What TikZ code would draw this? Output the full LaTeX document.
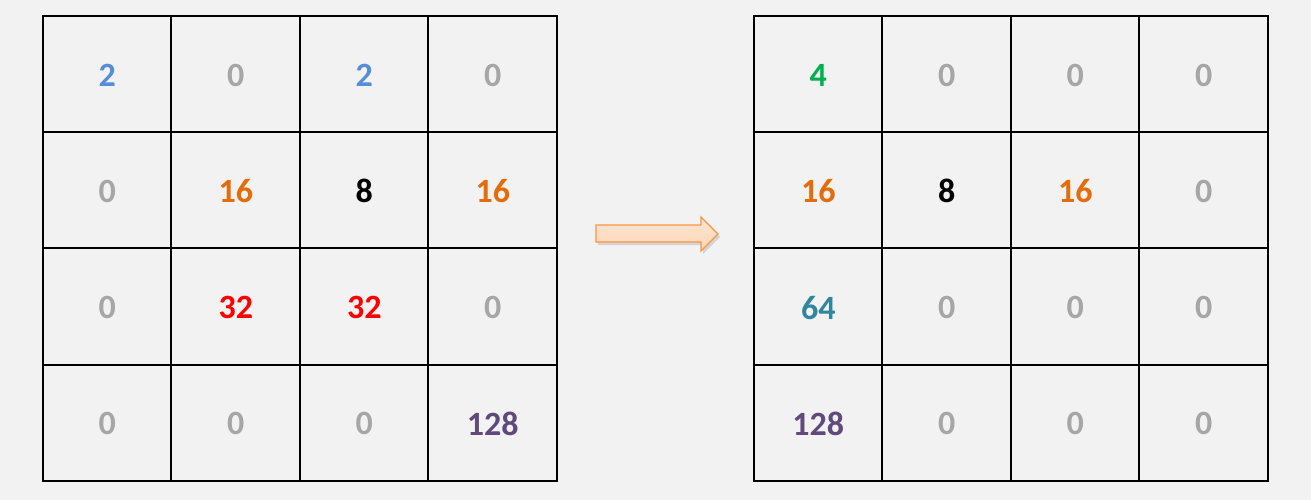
\documentclass[tikz,border=0pt]{standalone}
\usepackage{fontspec}
\setmainfont{Carlito}
\usetikzlibrary{positioning}
\definecolor{bgpaper}{HTML}{F2F2F2}
\definecolor{numgray}{HTML}{A6A6A6}
\definecolor{numblue}{HTML}{558ED5}
\definecolor{numorange}{HTML}{E46C0A}
\definecolor{numred}{HTML}{FF0000}
\definecolor{numpurple}{HTML}{604A7B}
\definecolor{numgreen}{HTML}{00B050}
\definecolor{numteal}{HTML}{31859C}
\definecolor{arrowline}{HTML}{F79646}
\definecolor{arrowfill}{HTML}{FCD5B5}
\tikzset{
    %Define style for grid cells
    cell/.style={
           rectangle,
           minimum width=128.5pt,
           minimum height=116.25pt,
           inner sep=0pt,
           font=\fontsize{34}{34}\selectfont\bfseries},
    % Define style for the board lines
    boardline/.style={
           draw=black,
           line width=2pt,
           line cap=rect},
    % Define style for the move arrow
    movearrow/.style={
           draw=arrowline,
           line width=1.2pt,
           line join=miter,
           top color=arrowfill!60,
           bottom color=arrowfill},
}
\begin{document}
\begin{tikzpicture}[x=1pt,y=-1pt]
 \useasboundingbox[fill=bgpaper] (0,0) rectangle (1311,500);
 %left board
 \foreach \r/\row in {1/{numblue/2,numgray/0,numblue/2,numgray/0},
                      2/{numgray/0,numorange/16,black/8,numorange/16},
                      3/{numgray/0,numred/32,numred/32,numgray/0},
                      4/{numgray/0,numgray/0,numgray/0,numpurple/128}}{
   \foreach \col/\val [count=\c] in \row{
     \node[cell, text=\col] (L-\r-\c) at ({43+128.5*(\c-0.5)},{17+116.25*(\r-0.5)}) {\val};
   }
 }
 %right board
 \foreach \r/\row in {1/{numgreen/4,numgray/0,numgray/0,numgray/0},
                      2/{numorange/16,black/8,numorange/16,numgray/0},
                      3/{numteal/64,numgray/0,numgray/0,numgray/0},
                      4/{numpurple/128,numgray/0,numgray/0,numgray/0}}{
   \foreach \col/\val [count=\c] in \row{
     \node[cell, text=\col] (R-\r-\c) at ({754+128.5*(\c-0.5)},{17+116.25*(\r-0.5)}) {\val};
   }
 }
 %board lines
 \foreach \x in {43,171,300,428,557}{
   \draw[boardline] (\x,16) -- (\x,481);
   \draw[boardline] (\x+711,16) -- (\x+711,481);
 }
 \foreach \y in {16,132,248,365,481}{
   \draw[boardline] (43,\y) -- (557,\y);
   \draw[boardline] (754,\y) -- (1268,\y);
 }
 %arrow
 \fill[black, opacity=0.12] (598,228) -- (703,228) -- (703,220) -- (720,237)
   -- (703,254) -- (703,245) -- (598,245) -- cycle;
 \draw[movearrow] (596,225) -- (701,225) -- (701,217) -- (718,234)
   -- (701,251) -- (701,242) -- (596,242) -- cycle;
\end{tikzpicture}
\end{document}
